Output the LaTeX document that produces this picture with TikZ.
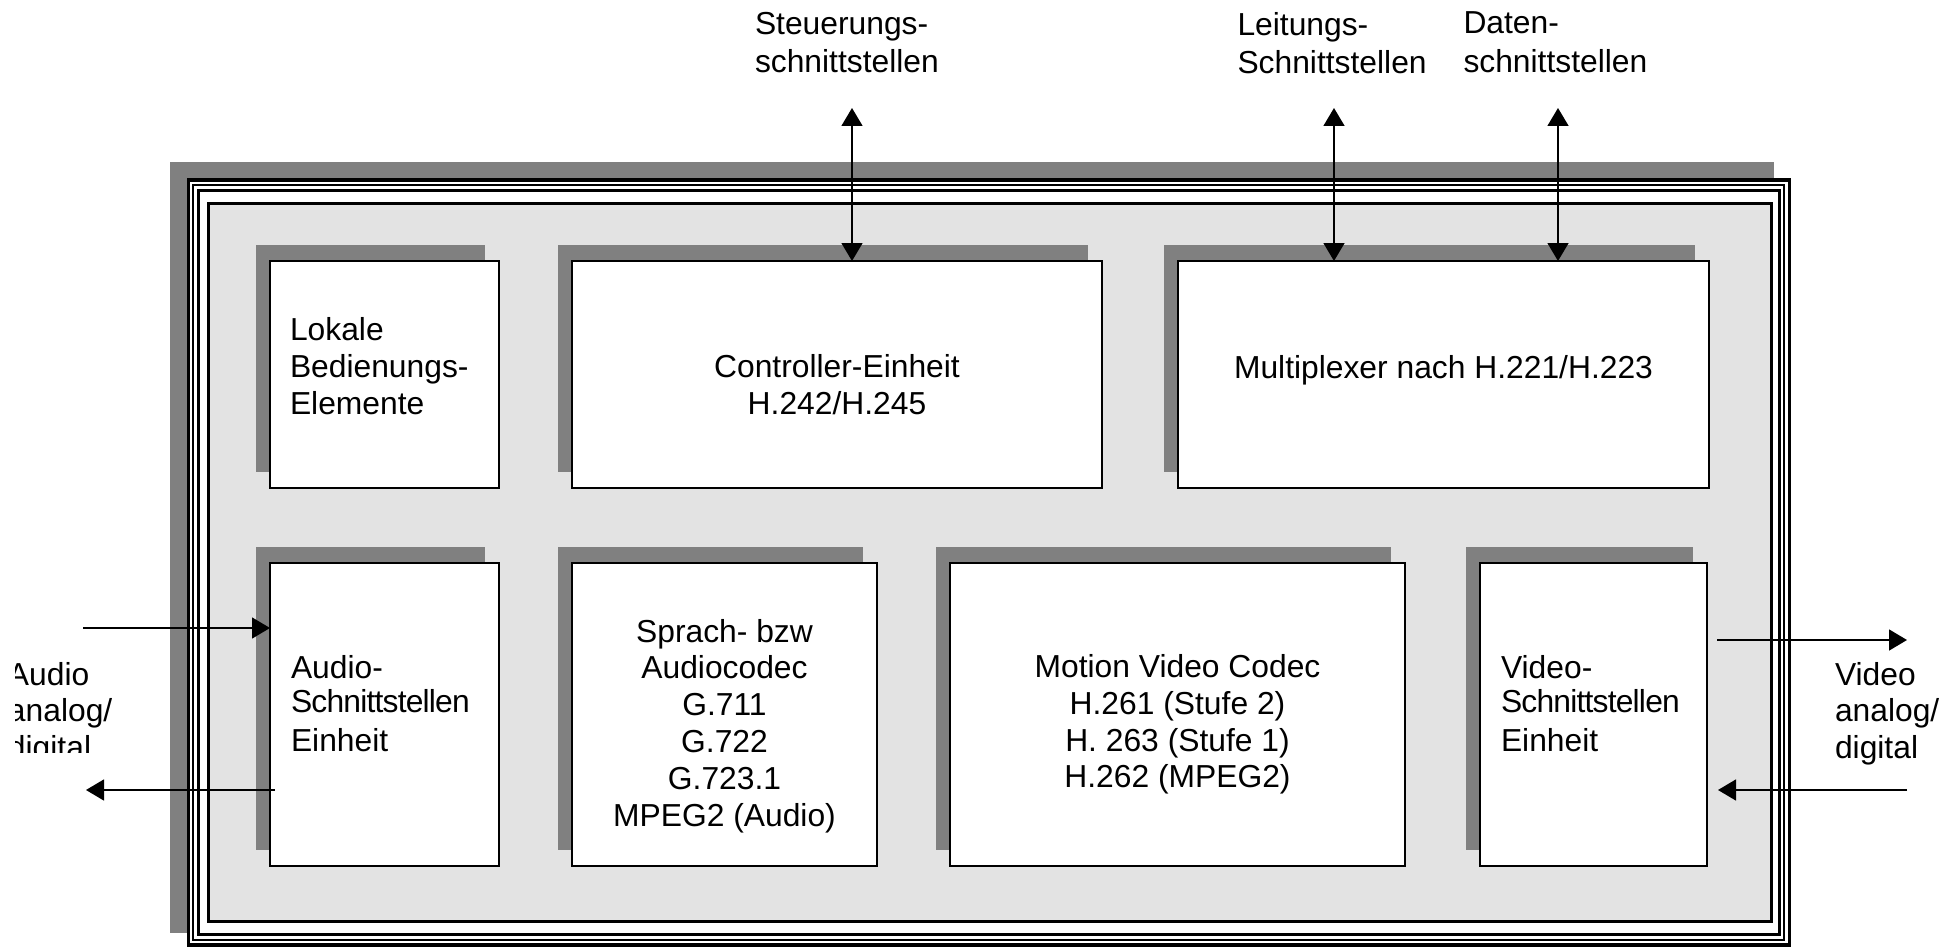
\documentclass[tikz,border=0pt]{standalone}
\usepackage{fontspec}
\setmainfont{Liberation Sans}
\usetikzlibrary{arrows.meta,shadows,calc}
\definecolor{sgray}{RGB}{128,128,128}
\definecolor{lgray}{RGB}{227,227,227}
\newcommand{\tightword}[1]{{\addfontfeature{LetterSpace=-2.5}#1}}
\begin{document}
\begin{tikzpicture}[x=0.5pt,y=-0.5pt,
  box/.style={draw=black, line width=0.85pt, fill=white, inner sep=0pt, outer sep=0pt,
    drop shadow={shadow xshift=-7.25pt, shadow yshift=8.25pt, fill=sgray, opacity=1}},
  txt/.style={font=\fontsize{15.9}{18.4}\selectfont, inner sep=0pt, outer sep=0pt},
  toptxt/.style={font=\fontsize{15.9}{19.3}\selectfont, inner sep=0pt, outer sep=0pt},
  arr/.style={line width=0.75pt, -{Triangle[length=9pt,width=10.5pt]}},
  biarr/.style={line width=0.75pt, {Triangle[length=9pt,width=10.5pt]}-{Triangle[length=9pt,width=10.5pt]}}
]
\useasboundingbox (0,0) rectangle (1950,947);
\fill[white] (0,0) rectangle (1950,947);
% outer frame
\fill[sgray] (170,162) rectangle (1774,933);
\fill[white] (188.5,180) rectangle (1789.5,945);
\fill[lgray] (208,203.5) rectangle (1771,921.5);
\draw[line width=1.75pt] (188.5,180) rectangle (1789.5,945);
\draw[line width=1pt] (193,185) rectangle (1784,939.5);
\draw[line width=1.5pt] (198,190.5) rectangle (1779.5,934);
\draw[line width=1.5pt] (208,203.5) rectangle (1771,921.5);
% boxes row 1
\node[box, minimum width=114.5pt, minimum height=113.5pt] (lok) at (384.5,374.5) {};
\node[box, minimum width=265pt, minimum height=113.5pt] (ctrl) at (837,374.5) {};
\node[box, minimum width=265.5pt, minimum height=113.5pt] (mux) at (1443.5,374.5) {};
% boxes row 2
\node[box, minimum width=114.5pt, minimum height=151.5pt] (aud) at (384.5,714.5) {};
\node[box, minimum width=152.5pt, minimum height=151.5pt] (spr) at (724.5,714.5) {};
\node[box, minimum width=227.5pt, minimum height=151.5pt] (mot) at (1177.5,714.5) {};
\node[box, minimum width=113.5pt, minimum height=151.5pt] (vid) at (1593.5,714.5) {};
% texts in boxes
\node[txt, anchor=north west, align=left] (lokT) at (290,317.5) {Lokale\\Bedienungs-\\Elemente};
\node[txt, anchor=north, align=center] (ctrlT) at (837,354.5) {Controller-Einheit\\H.242/H.245};
\node[txt, anchor=north, align=center] (muxT) at (1443.5,355) {Multiplexer nach H.221/H.223};
\node[txt, anchor=north west, align=left] (audT) at (291,655) {Audio-\\[-1pt]\tightword{Schnittstellen}\\[1pt]Einheit};
\node[txt, anchor=north, align=center] (sprT) at (724.5,619) {Sprach- bzw\\Audiocodec\\G.711\\G.722\\G.723.1\\MPEG2 (Audio)};
\node[txt, anchor=north, align=center] (motT) at (1177.5,654.5) {Motion Video Codec\\H.261 (Stufe 2)\\H. 263 (Stufe 1)\\H.262 (MPEG2)};
\node[txt, anchor=north west, align=left] (vidT) at (1501,655) {Video-\\[-1pt]\tightword{Schnittstellen}\\[1pt]Einheit};
% outside labels
\node[toptxt, anchor=north west, align=left] (stT) at (755,12) {Steuerungs-\\schnittstellen};
\node[toptxt, anchor=north west, align=left] (leT) at (1237.5,12) {Leitungs-\\Schnittstellen};
\node[toptxt, anchor=north west, align=left] (daT) at (1463.5,12) {Daten-\\schnittstellen};
\node[txt, anchor=north west, align=left] (vlab) at (1835,662) {Video\\analog/\\digital};
\begin{scope}
\clip (15,600) rectangle (200,752);
\node[txt, anchor=north west, align=left] (alab) at (8,662) {Audio\\analog/\\digital};
\end{scope}
% vertical arrows
\coordinate (stTop) at (852,108);
\coordinate (leTop) at (1334,108);
\coordinate (daTop) at (1558,108);
\draw[biarr] (stTop) -- (stTop |- ctrl.north);
\draw[biarr] (leTop) -- (leTop |- mux.north);
\draw[biarr] (daTop) -- (daTop |- mux.north);
% side arrows
\coordinate (ain) at (83,628);
\coordinate (aout) at (86,790);
\draw[arr] (ain) -- (ain -| aud.west);
\draw[arr] ($(aud.west |- aout)+(5,0)$) -- (aout);
\coordinate (vo) at (1907,640);
\coordinate (vi) at (1907,790);
\draw[arr] ($(vid.east |- vo)+(10,0)$) -- (vo);
\draw[arr] (vi) -- ($(vid.east |- vi)+(11,0)$);
\end{tikzpicture}
\end{document}
